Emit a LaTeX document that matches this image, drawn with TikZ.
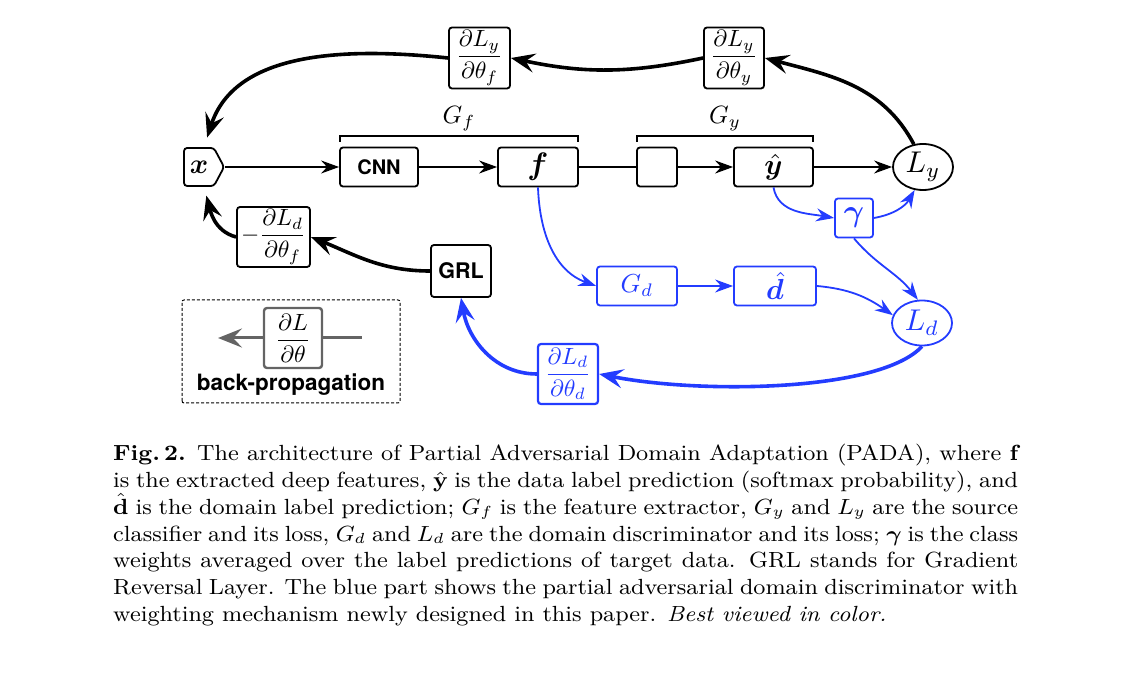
\RequirePackage{fix-cm}
\documentclass[tikz,border=0pt]{standalone}
\usepackage{amsmath,bm}
\usepackage{graphicx}
\usepackage{fontspec}
\setmainfont{Latin Modern Roman}
\newfontfamily\heros{TeX Gyre Heros}
\usetikzlibrary{arrows.meta,shapes.geometric,shapes.symbols}
\definecolor{pblue}{RGB}{35,60,255}
\definecolor{lgray}{RGB}{100,100,100}
\newcommand\fsz[1]{\fontsize{#1}{#1}\selectfont}
\newcommand\mth[2]{\scalebox{#1}{\fontsize{10}{12}\selectfont$#2$}}
\begin{document}
\begin{tikzpicture}[x=1pt,y=1pt,
  box/.style={draw,line width=1.8pt,rounded corners=3pt,inner sep=0pt,minimum height=39pt},
  bbox/.style={box,draw=pblue,text=pblue},
  ell/.style={draw,ellipse,line width=1.8pt,inner sep=0pt,minimum width=60pt,minimum height=46pt},
  fwd/.style={line width=1.8pt,-{Stealth[length=18pt,width=13pt,inset=6pt]}},
  bwd/.style={line width=3.6pt,-{Stealth[length=24pt,width=19pt,inset=9pt]}},
  sans/.style={font=\heros\bfseries\fsz{20}},
]
\useasboundingbox (0,0) rectangle (1132,672);

% forward nodes
\node[box,signal,signal to=east,signal pointer angle=124,minimum width=40pt,minimum height=38pt] (x) at (199,505) {\mth{2.8}{\bm{x}}};
\node[box,minimum width=78pt,sans] (cnn) at (379,505) {CNN};
\node[box,minimum width=80pt] (f) at (538,505) {\mth{3.1}{\bm{f}}};
\node[box,minimum width=40pt] (e) at (657,505) {};
\node[box,minimum width=79pt] (yh) at (773.5,505) {\mth{2.9}{\hat{\bm{y}}}};
\node[ell] (Ly) at (923,505) {\mth{3}{L_y}};

% gradient boxes
\node[box,minimum width=61pt,minimum height=61pt] (dLyf) at (479.5,614) {\mth{2.35}{\dfrac{\partial L_y}{\partial\theta_f}}};
\node[box,minimum width=60pt,minimum height=61pt] (dLyy) at (734,614) {\mth{2.35}{\dfrac{\partial L_y}{\partial\theta_y}}};
\node[box,minimum width=73pt,minimum height=60pt] (mdLdf) at (273.5,435) {\mth{2.35}{-\dfrac{\partial L_d}{\partial\theta_f}}};
\node[box,minimum width=60pt,minimum height=52pt,sans,font=\heros\bfseries\fsz{21.5}] (grl) at (461,401) {GRL};

% blue part
\node[bbox,minimum width=38pt] (gam) at (854,454) {\mth{3.1}{\bm{\gamma}}};
\node[ell,draw=pblue,text=pblue,minimum height=45pt] (Ld) at (922,349) {\mth{3}{L_d}};
\node[bbox,minimum width=80pt] (Gd) at (637,386) {\mth{2.6}{G_d}};
\node[bbox,minimum width=82pt] (dh) at (775,386) {\mth{2.9}{\hat{\bm{d}}}};
\node[bbox,minimum width=60pt,minimum height=60pt,line width=2.2pt] (dLdd) at (568,298) {\mth{2.35}{\dfrac{\partial L_d}{\partial\theta_d}}};

% braces
\draw[line width=1.8pt] (340,530) -- (340,536) -- (578,536) -- (578,530);
\draw[line width=1.8pt] (637,530) -- (637,536) -- (813,536) -- (813,530);
\node (Gf) at (459,553) {\mth{2.5}{G_f}};
\node (Gy) at (725,553) {\mth{2.5}{G_y}};

% forward connectors
\draw[fwd] (x) -- (cnn);
\draw[fwd] (cnn) -- (f);
\draw[line width=1.8pt] (f) -- (e);
\draw[fwd] (e) -- (yh);
\draw[fwd] (yh) -- (Ly);

% back-propagation
\draw[bwd] (Ly.112) to[out=118,in=-15] (dLyy.east);
\draw[bwd] (dLyy.west) to[bend left=12] (dLyf.east);
\draw[bwd,shorten >=10pt] (dLyf.west) to[out=174,in=72] ([xshift=5pt]x.north);
\draw[bwd] (grl.west) to[out=180,in=-22] (mdLdf.east);
\draw[bwd,shorten >=9pt] (mdLdf.west) to[out=165,in=-75] ([xshift=5pt]x.south);

% blue connectors
\draw[fwd,pblue] (f.south) to[out=-88,in=160] (Gd.west);
\draw[fwd,pblue] (Gd) -- (dh);
\draw[fwd,pblue] (dh.east) to[out=-5,in=145] (Ld.165);
\draw[fwd,pblue] (yh.south) to[out=-80,in=170] (gam.west);
\draw[fwd,pblue] (gam.east) to[out=10,in=-120] (Ly.250);
\draw[fwd,pblue] (gam.south) to[out=-50,in=128] (Ld.100);
\draw[bwd,pblue] (Ld.south) .. controls (880,280) and (700,278) .. (dLdd.east);
\draw[bwd,pblue] (dLdd.west) to[out=180,in=-80] (grl.south);

% legend
\draw[line width=1pt,dash pattern=on 3pt off 2pt,rounded corners=2pt] (182,269) rectangle (400,372);
\node[box,draw=lgray,minimum width=58pt,minimum height=60pt,line width=2.4pt] (leg) at (293,334) {\mth{2.35}{\dfrac{\partial L}{\partial\theta}}};
\coordinate (legL) at (218,334);
\coordinate (legR) at (362,334);
\draw[line width=3pt,lgray] (leg.east) -- (legR);
\draw[bwd,lgray,line width=3pt] (leg.west) -- (legL);
\node[sans,font=\heros\bfseries\fsz{22.5}] (legtxt) at (291,287) {back-propagation};

% caption
\node[anchor=base west,inner sep=0pt] (cap) at (113,211.3) {\scalebox{2.617}[2.436]{\begin{minipage}[t]{345.8pt}\fontsize{9}{11}\selectfont\parindent=0pt
\textbf{Fig.\,2.} The architecture of Partial Adversarial Domain Adaptation (PADA), where $\mathbf{f}$\linebreak
is the extracted deep features, $\hat{\mathbf{y}}$ is the data label prediction (softmax probability), and\linebreak
$\hat{\mathbf{d}}$ is the domain label prediction; $G_f$ is the feature extractor, $G_y$ and $L_y$ are the source\linebreak
classifier and its loss, $G_d$ and $L_d$ are the domain discriminator and its loss; $\boldsymbol{\gamma}$ is the class\linebreak
weights averaged over the label predictions of target data. GRL stands for Gradient\linebreak
Reversal Layer. The blue part shows the partial adversarial domain discriminator with\linebreak
weighting mechanism newly designed in this paper. \emph{Best viewed in color.}
\end{minipage}}};
\end{tikzpicture}
\end{document}
